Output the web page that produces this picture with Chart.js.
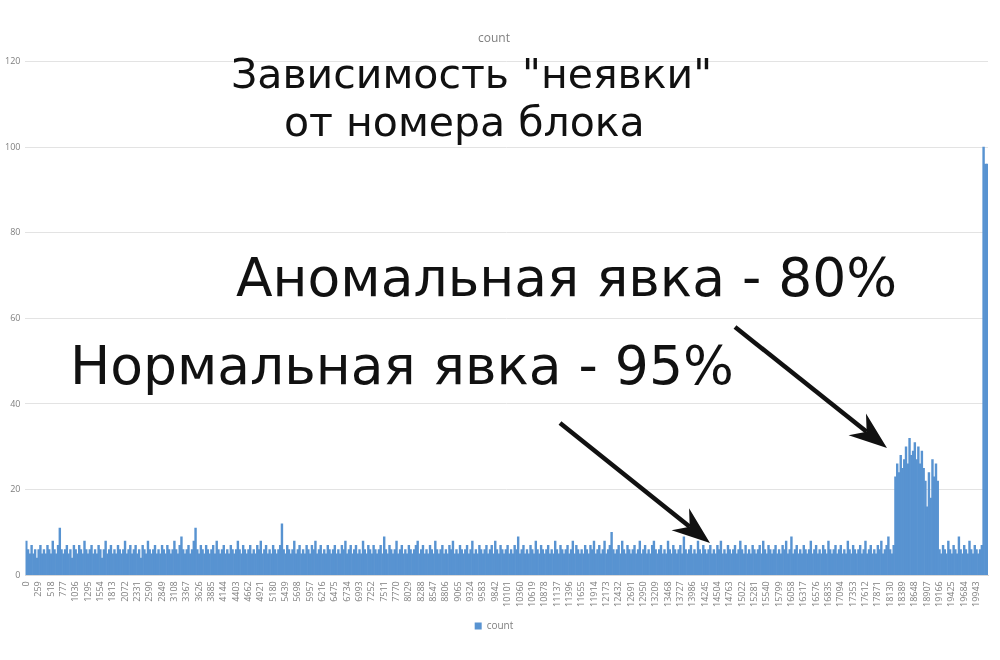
<!DOCTYPE html>
<html>
<head>
<meta charset="utf-8">
<script src="https://cdn.jsdelivr.net/npm/chart.js@4"></script>
<style>
  html, body { margin: 0; padding: 0; background: #fff; }
  #wrap { position: relative; width: 1000px; height: 660px; }
  #chart { position: absolute; left: 0; top: 0; }
  .note { position: absolute; font-family: "DejaVu Sans", sans-serif; color: #111; white-space: nowrap; }
  #arrows { position: absolute; left: 0; top: 0; pointer-events: none; }
</style>
</head>
<body>
<div id="wrap">
  <canvas id="chart" width="1000" height="660"></canvas>
  <div class="note" style="left:231px;top:54px;font-size:41px;line-height:41px;">Зависимость "неявки"</div>
  <div class="note" style="left:284px;top:102px;font-size:41px;line-height:41px;">от номера блока</div>
  <div class="note" style="left:236px;top:251px;font-size:53.5px;line-height:53.5px;">Аномальная явка - 80%</div>
  <div class="note" style="left:70px;top:339px;font-size:53.5px;line-height:53.5px;">Нормальная явка - 95%</div>
  <svg id="arrows" width="1000" height="660"></svg>
</div>
<script>
// block numbers step by 37, so every 7th bar lands on a tick label (259 = 7 * 37)
const blockStep = 37;

const tickLabels = [0, 259, 518, 777, 1036, 1295, 1554, 1813, 2072, 2331, 2590, 2849, 3108, 3367,
    3626, 3885, 4144, 4403, 4662, 4921, 5180, 5439, 5698, 5957, 6216, 6475, 6734, 6993, 7252,
    7511, 7770, 8029, 8288, 8547, 8806, 9065, 9324, 9583, 9842, 10101, 10360, 10619, 10878,
    11137, 11396, 11655, 11914, 12173, 12432, 12691, 12950, 13209, 13468, 13727, 13986, 14245,
    14504, 14763, 15022, 15281, 15540, 15799, 16058, 16317, 16576, 16835, 17094, 17353, 17612,
    17871, 18130, 18389, 18648, 18907, 19166, 19425, 19684, 19943];

const countStart = [
    8,6,5,7,5,6,4,6,7,5, 6,5,7,6,5,8,6,5,7,11, 6,5,6,7,5,6,4,7,6,5, 7,6,5,8,6,5,6,7,5,6,
    5,7,6,4,6,8,5,6,7,5, 6,5,7,6,5,6,8,5,6,7, 5,6,7,5,6,4,7,6,5,8, 6,5,6,7,5,6,5,7,6,5,
    7,6,5,6,8,6,5,7,9,6, 5,6,7,5,6,8,11,6,5,7, 6,5,7,6,5,6,7,5,8,6, 5,6,7,5,6,5,7,6,5,6,
    8,6,5,7,6,5,6,7,5,6, 5,7,6,8,5,6,7,5,6,5, 7,6,5,6,7,12,6,5,7,6, 5,6,8,5,6,7,5,6,5,7,
    6,5,7,6,8,5,6,7,5,6, 5,7,6,5,6
];
const countMiddle = [
    7,5,6,5,7,6,8,5,6,7, 5,6,7,5,6,5,8,6,5,7, 6,5,7,6,5,6,7,5,9,6, 5,7,6,5,6,8,5,6,7,5,
    6,5,7,6,5,6,7,8,5,6, 7,5,6,5,7,6,5,8,6,5, 6,7,5,6,5,7,6,8,5,6, 5,7,6,5,6,7,5,6,8,5,
    6,5,7,6,5,6,7,5,6,7, 5,8,6,5,7,6,5,6,7,5, 6,5,7,6,9,5,6,7,5,6, 5,7,6,5,8,6,5,7,6,5,
    6,7,5,6,5,8,6,5,7,6, 5,6,7,5,6,8,5,7,6,5, 6,5,7,6,5,7,6,8,5,6, 7,5,6,8,5,6,7,10,6,5,
    6,7,5,8,6,5,7,6,5,6, 7,5,6,8,5
];
const countLate = [
    6,7,5,6,5,7,8,6,5,6, 7,5,6,5,8,6,5,7,6,5, 6,7,5,9,6,5,6,7,5,6, 5,8,6,5,7,6,5,6,7,5,
    6,5,7,6,8,5,6,5,7,6, 5,6,7,5,6,8,6,5,7,5, 6,5,7,6,5,6,7,5,8,6, 5,7,6,5,6,7,5,6,5,7,
    6,8,5,6,9,5,6,7,5,6, 5,7,6,5,6,8,5,6,7,5, 6,5,7,6,5,8,6,5,6,7, 5,6,7,5,6,5,8,6,5,7,
    6,5,6,7,5,6,8,5,6,7, 5,6,5,7,6,8,5,6,7,9, 6,5,7
];
const countAnomaly = [23,26,24,28,25,27,30,26,32,28,29,31,27,30,26,29,25,22,16,24,18,27,23,26,22];
const countTail = [6,5,7,6,5,8,6,5,7,6,5,9,6,5,7,6,5,8,6,5,7,6,5,6,7];
const countSpike = [100,96,96];

const counts = [...countStart, ...countMiddle, ...countLate, ...countAnomaly, ...countTail, ...countSpike];
const blocks = counts.map((v, i) => String(i * blockStep));
const tickSet = new Set(tickLabels.map(String));

const grey = '#7f7f7f';
const ctx = document.getElementById('chart').getContext('2d');
const chart = new Chart(ctx, {
    type: 'bar',
    data: {
        labels: blocks,
        datasets: [{
            label: 'count',
            data: counts,
            backgroundColor: '#5893d1',
            barPercentage: 1,
            categoryPercentage: 1,
            borderWidth: 0
        }]
    },
    options: {
        responsive: false,
        animation: false,
        layout: { padding: { left: 0, right: 12, top: 31, bottom: 19 } },
        plugins: {
            title: {
                display: true,
                text: 'count',
                color: grey,
                font: { family: 'Open Sans', size: 12, weight: 'normal' },
                padding: { top: 0, bottom: 16 }
            },
            legend: {
                position: 'bottom',
                labels: {
                    color: grey,
                    boxWidth: 7,
                    boxHeight: 7,
                    padding: 8,
                    font: { family: 'Open Sans', size: 10 }
                }
            },
            tooltip: { enabled: false }
        },
        scales: {
            x: {
                grid: { display: false, drawTicks: false },
                border: { color: '#d9d9d9' },
                ticks: {
                    autoSkip: false,
                    minRotation: 90,
                    maxRotation: 90,
                    padding: 6,
                    color: grey,
                    font: { family: 'Open Sans', size: 9 },
                    callback: function(value) {
                        const lbl = this.getLabelForValue(value);
                        return tickSet.has(lbl) ? lbl : null;
                    }
                }
            },
            y: {
                min: 0,
                max: 120,
                ticks: {
                    stepSize: 20,
                    color: grey,
                    padding: 5,
                    font: { family: 'Open Sans', size: 9 }
                },
                grid: { color: '#e3e3e3', drawTicks: false },
                border: { display: false }
            }
        }
    }
});

// annotation arrows
const arrowList = [
    { from: [735, 327], to: [887, 448] },
    { from: [560, 423], to: [710, 543] }
];
const svg = document.getElementById('arrows');
for (const a of arrowList) {
    const dx = a.to[0] - a.from[0], dy = a.to[1] - a.from[1];
    const len = Math.hypot(dx, dy), ux = dx / len, uy = dy / len;
    const px = -uy, py = ux;
    const headLen = 38, half = 14, notch = 26;
    const bx = a.to[0] - ux * headLen, by = a.to[1] - uy * headLen;
    const nx = a.to[0] - ux * notch, ny = a.to[1] - uy * notch;
    svg.innerHTML += `<line x1="${a.from[0]}" y1="${a.from[1]}" x2="${nx}" y2="${ny}" stroke="#111" stroke-width="4.5"/>`;
    svg.innerHTML += `<polygon fill="#111" points="${a.to[0]},${a.to[1]} ${bx + px * half},${by + py * half} ${nx},${ny} ${bx - px * half},${by - py * half}"/>`;
}
</script>
</body>
</html>
